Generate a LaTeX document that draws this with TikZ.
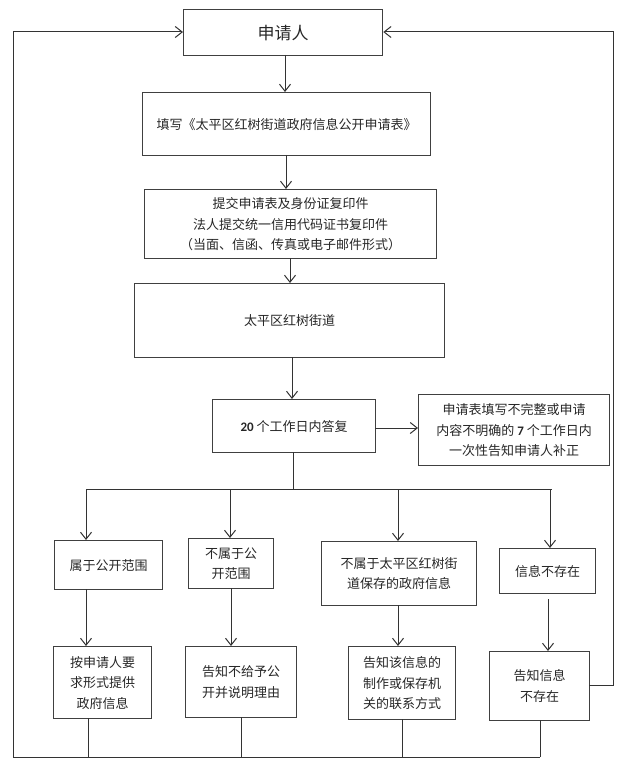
\documentclass[tikz,border=0pt]{standalone}
\usepackage{fontspec}
\newfontfamily\cjk{Noto Sans CJK SC}
\newfontfamily\lat{Carlito}
\usetikzlibrary{arrows.meta}
\tikzset{
  box/.style={draw=black!75,line width=1.3pt,anchor=north west,inner sep=0pt,
    align=center,text=black!85,font=\cjk\fontsize{13}{20.5}\selectfont},
  conn/.style={draw=black!80,line width=1pt},
  arr/.style={conn,-{Straight Barb[length=7pt,width=11pt,line width=1pt]}},
}
\begin{document}
\begin{tikzpicture}[x=1pt,y=-1pt]
\useasboundingbox (0,0) rectangle (632,770);
% boxes
\node[box,minimum width=199pt,minimum height=46pt,font=\cjk\fontsize{17}{20}\selectfont] (A) at (183,9) {申请人};
\node[box,minimum width=288pt,minimum height=63pt] (B) at (142,92) {填写《太平区红树街道政府信息公开申请表》};
\node[box,minimum width=292pt,minimum height=69pt] (C) at (144,189) {提交申请表及身份证复印件\\法人提交统一信用代码证书复印件\\（当面、信函、传真或电子邮件形式）};
\node[box,minimum width=310pt,minimum height=74pt] (D) at (134,283) {太平区红树街道};
\node[box,minimum width=163pt,minimum height=53pt] (E) at (212,399) {{\lat\bfseries 20} 个工作日内答复};
\node[box,minimum width=191pt,minimum height=71pt] (F) at (418,394) {申请表填写不完整或申请\\内容不明确的 {\lat\bfseries 7} 个工作日内\\一次性告知申请人补正};
\node[box,minimum width=108pt,minimum height=49pt] (G1) at (54,540) {属于公开范围};
\node[box,minimum width=85pt,minimum height=50pt] (G2) at (188,538) {不属于公\\开范围};
\node[box,minimum width=155pt,minimum height=64pt] (G3) at (321,541) {不属于太平区红树街\\道保存的政府信息};
\node[box,minimum width=96pt,minimum height=45pt] (G4) at (499,548) {信息不存在};
\node[box,minimum width=98pt,minimum height=72pt] (H1) at (53,646) {按申请人要\\求形式提供\\政府信息};
\node[box,minimum width=111pt,minimum height=71pt] (H2) at (185,646) {告知不给予公\\开并说明理由};
\node[box,minimum width=107pt,minimum height=73pt] (H3) at (348,646) {告知该信息的\\制作或保存机\\关的联系方式};
\node[box,minimum width=100pt,minimum height=69pt] (H4) at (489,651) {告知信息\\不存在};
% coordinates
\coordinate (a1) at (285,55);
\coordinate (b1) at (286,155);
\coordinate (c1) at (290,258);
\coordinate (d1) at (292,357);
\coordinate (e1) at (375,428);
\coordinate (e2) at (293,452);
\coordinate (busL) at (86,489);
\coordinate (busR) at (552,489);
\coordinate (j2) at (230,489);
\coordinate (j3) at (398,489);
\coordinate (j4) at (550,489);
\coordinate (k1) at (86,589);
\coordinate (k2) at (231,588);
\coordinate (k3) at (398,605);
\coordinate (k4) at (548,599);
\coordinate (m1) at (88,718);
\coordinate (m2) at (241,717);
\coordinate (m3) at (402,719);
\coordinate (m4) at (540,720);
\coordinate (bl) at (13,757);
\coordinate (tl) at (13,32);
\coordinate (r1) at (589,685);
\coordinate (tr) at (613,32);
% main chain
\draw[arr] (a1) -- (a1 |- B.north);
\draw[arr] (b1) -- (b1 |- C.north);
\draw[arr] (c1) -- (c1 |- D.north);
\draw[arr] (d1) -- (d1 |- E.north);
\draw[arr] (e1) -- (e1 -| F.west);
\draw[conn] (e2) -- (e2 |- busL);
\draw[conn] (busL) -- (busR);
\draw[arr] (busL) -- (busL |- G1.north);
\draw[arr] (j2) -- (j2 |- G2.north);
\draw[arr] (j3) -- (j3 |- G3.north);
\draw[arr] (j4) -- (j4 |- G4.north);
\draw[arr] (k1) -- (k1 |- H1.north);
\draw[arr] (k2) -- (k2 |- H2.north);
\draw[arr] (k3) -- (k3 |- H3.north);
\draw[arr] (k4) -- (k4 |- H4.north);
% bottom return
\draw[conn] (m1) -- (m1 |- bl);
\draw[conn] (m2) -- (m2 |- bl);
\draw[conn] (m3) -- (m3 |- bl);
\draw[conn] (m4) -- (m4 |- bl);
\draw[arr] (m4 |- bl) -- (bl) -- (tl) -- (tl -| A.west);
\draw[arr] (r1) -- (r1 -| tr) -- (tr) -- (tr -| A.east);
\end{tikzpicture}
\end{document}
